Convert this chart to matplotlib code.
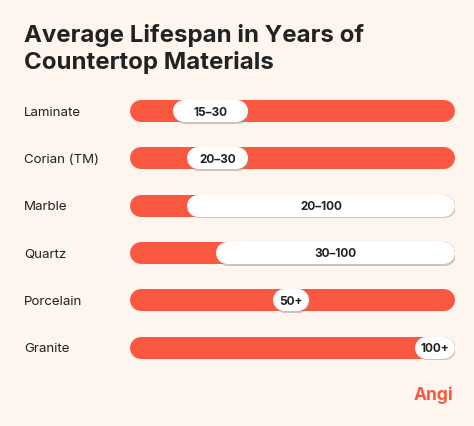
import matplotlib
matplotlib.use("Agg")
import matplotlib.pyplot as plt
import matplotlib.patheffects as pe

# data
materials = ["Laminate", "Corian (TM)", "Marble", "Quartz", "Porcelain", "Granite"]
low_years = [15, 20, 20, 30, 50, 100]
high_years = [30, 30, 100, 100, None, None]   # None -> open-ended ("50+")
labels = ["15\u201330", "20\u201330", "20\u2013100", "30\u2013100", "50+", "100+"]
title_lines = ["Average Lifespan in Years of", "Countertop Materials"]

BG = "#fdf5ee"
RED = "#fa5841"
DARK = "#222222"
plt.rcParams["font.family"] = ["Inter", "DejaVu Sans"]

W, H, DPI = 474, 426, 100
fig = plt.figure(figsize=(W / DPI, H / DPI), dpi=DPI, facecolor=BG)

# title, one text per line
for k, line in enumerate(title_lines):
    fig.text(24 / W, 1 - (42 + 27.5 * k) / H, line, fontsize=17.3,
             fontweight="bold", color=DARK, va="baseline")

# bars area: x in years, y in rows
bar_left, bar_right = 130, 455
row_top, row_step = 111, 47.3
ax = fig.add_axes([bar_left / W, 1 - (row_top + 5.5 * row_step) / H,
                   (bar_right - bar_left) / W, 6 * row_step / H])
ax.set_facecolor(BG)
scale_max = 114
ax.set_xlim(0, scale_max)
ax.set_ylim(5.5, -0.5)
ax.axis("off")

px = scale_max / (bar_right - bar_left)      # years per pixel
bar_h = 22                                   # pixels
lw = bar_h * 72 / DPI
cap = bar_h / 2 * px
range_pad = 32 * px
plus_w = 36 * px

shadow = [pe.SimpleLineShadow(offset=(0.8, -1.2), shadow_color="#9c948c", alpha=0.5),
          pe.Normal()]

for i, (name, lo, hi, lab) in enumerate(zip(materials, low_years, high_years, labels)):
    ax.plot([cap, scale_max - cap], [i, i], color=RED, lw=lw,
            solid_capstyle="round", zorder=1)
    left = lo
    right = (hi + range_pad) if hi is not None else lo + plus_w
    if scale_max - right < cap:      # snap to the end of the bar
        left -= max(0, right - scale_max)
        right = scale_max
    ax.plot([left + cap, right - cap], [i, i], color="white", lw=lw,
            solid_capstyle="round", zorder=2, path_effects=shadow)
    ax.text((left + right) / 2, i, lab, ha="center", va="center_baseline",
            fontsize=8.5, fontweight="bold", color=DARK, zorder=3)
    fig.text(24 / W, 1 - (row_top + i * row_step) / H, name, ha="left",
             va="center_baseline", fontsize=9.6, color=DARK)

# logo
fig.text(433 / W, 1 - 395 / H, "Angi", ha="center", va="center",
         fontsize=12.5, fontweight="bold", color=RED)

fig.savefig("out.png", dpi=DPI, facecolor=BG)
